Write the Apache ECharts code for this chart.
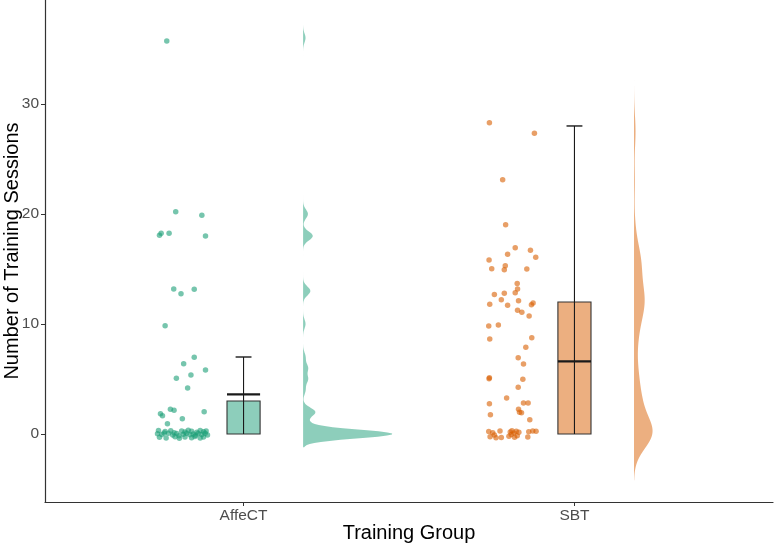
<!DOCTYPE html>
<html><head><meta charset="utf-8">
<script src="https://cdn.jsdelivr.net/npm/echarts@6/dist/echarts.min.js"></script>
<style>html,body{margin:0;padding:0;background:#fff}#c{width:774px;height:545px}</style>
</head><body><div id="c"></div>
<script>
// ---------- data ----------
const categories = ['AffeCT', 'SBT'];
const yTicks = [0, 10, 20, 30];
const xTitle = 'Training Group';
const yTitle = 'Number of Training Sessions';

// jittered points: [horizontal jitter from group centre, plotted value]
const affectPoints = [
  [-0.232,35.73],[-0.205,20.21],[-0.126,19.88],[-0.254,18.06],[-0.249,18.24],[-0.225,18.24],[-0.115,18.0],
  [-0.211,13.18],[-0.189,12.76],[-0.149,13.15],[-0.237,9.85],[-0.149,6.97],[-0.181,6.39],[-0.115,5.82],
  [-0.159,5.36],[-0.203,5.06],[-0.169,4.18],[-0.251,1.85],[-0.245,1.66],[-0.221,2.24],[-0.210,2.15],
  [-0.119,2.03],[-0.185,1.39],[-0.230,0.94],
  [-0.257,0.33],[-0.237,0.22],[-0.220,0.30],[-0.210,0.12],[-0.187,0.28],[-0.177,0.18],[-0.167,0.35],
  [-0.157,0.25],[-0.141,0.15],[-0.131,0.31],[-0.121,0.20],
  [-0.260,0.02],[-0.247,-0.05],[-0.227,0.06],[-0.214,-0.08],[-0.202,0.04],[-0.182,-0.02],[-0.172,0.08],
  [-0.162,-0.06],[-0.152,0.01],[-0.137,0.05],[-0.126,-0.04],[-0.116,0.07],[-0.109,-0.10],
  [-0.254,-0.30],[-0.234,-0.36],[-0.207,-0.25],[-0.194,-0.38],[-0.177,-0.28],[-0.157,-0.33],[-0.147,-0.22],
  [-0.131,-0.37],[-0.121,-0.27],
  [-0.240,0.10],[-0.195,-0.15],[-0.145,-0.12],[-0.113,0.28]
];
const sbtPoints = [
  [-0.257,28.3],[-0.121,27.33],[-0.217,23.12],[-0.208,19.03],[-0.179,16.94],[-0.133,16.7],[-0.202,16.33],
  [-0.117,16.06],[-0.258,15.82],[-0.209,15.3],[-0.212,14.94],[-0.250,15.03],[-0.144,15.0],[-0.173,13.67],
  [-0.172,13.18],[-0.179,12.85],[-0.242,12.67],[-0.212,12.79],[-0.221,12.21],[-0.169,12.12],[-0.256,11.79],
  [-0.202,11.7],[-0.130,11.76],[-0.125,11.9],[-0.172,11.24],[-0.159,11.06],[-0.137,10.73],[-0.259,9.82],
  [-0.230,9.91],[-0.256,8.64],[-0.129,8.76],[-0.147,7.88],[-0.170,6.94],[-0.154,6.36],[-0.258,5.03],
  [-0.257,5.12],[-0.156,4.97],[-0.170,4.24],[-0.205,3.27],[-0.257,2.76],[-0.154,2.82],[-0.140,2.82],
  [-0.169,2.24],[-0.254,1.76],[-0.166,1.97],[-0.160,1.94],[-0.135,1.3],
  [-0.259,0.22],[-0.247,0.12],[-0.225,0.28],[-0.194,0.18],[-0.189,0.30],[-0.183,0.10],[-0.176,0.25],
  [-0.168,0.16],[-0.138,0.20],[-0.126,0.27],[-0.116,0.24],
  [-0.255,-0.25],[-0.242,-0.10],[-0.237,-0.35],[-0.221,-0.32],[-0.198,-0.20],[-0.191,-0.05],[-0.181,-0.30],
  [-0.173,-0.15],[-0.141,-0.28]
];
// box summaries: [lower whisker, box bottom, thick line, box top, upper whisker]
const affectBox = [0, 0, 3.6, 3, 7];
const sbtBox = [0, 0, 6.6, 12, 28];
// kernel bandwidths of the half-violins
const bandwidths = [0.4, 1.4];

// ---------- drawing ----------
const colors = ['#1b9e77', '#d95f02'];
const pointSets = [affectPoints, sbtPoints];
const boxSets = [affectBox, sbtBox];
const violinBase = 0.18;
const violinMaxHalf = [0.269, 0.056];
const boxHalf = 0.05, capHalf = 0.024;
const FONT = "'Liberation Sans', Arial, Helvetica, sans-serif";

function kde(values, bw) {
  const v = values.map(Math.round);
  const lo = Math.min(...v) - 3 * bw, hi = Math.max(...v) + 3 * bw;
  const N = 400, out = [];
  for (let i = 0; i <= N; i++) {
    const y = lo + (hi - lo) * i / N;
    let s = 0;
    for (const t of v) { const z = (y - t) / bw; s += Math.exp(-0.5 * z * z); }
    out.push([y, s / (v.length * bw * Math.sqrt(2 * Math.PI))]);
  }
  return out;
}
const densities = pointSets.map((ps, g) => kde(ps.map(p => p[1]), bandwidths[g]));

const series = [];
pointSets.forEach((ps, g) => {
  series.push({
    type: 'scatter',
    data: ps.map(p => [g + 1 + p[0], p[1]]),
    symbolSize: 5.5,
    itemStyle: { color: colors[g], opacity: 0.6 },
    silent: true, z: 2
  });
});
series.push({
  type: 'custom',
  data: [[1, 0], [2, 0]],
  encode: { x: 0, y: 1 },
  silent: true, z: 3,
  renderItem: function (params, api) {
    const g = params.dataIndex, cx = g + 1;
    const [lw, q1, mid, q3, uw] = boxSets[g];
    const p = (x, y) => api.coord([x, y]);
    const tl = p(cx - boxHalf, q3), br = p(cx + boxHalf, q1);
    const line = (a, b, w) => ({ type: 'line', shape: { x1: a[0], y1: a[1], x2: b[0], y2: b[1] },
      style: { stroke: '#1a1a1a', lineWidth: w } });
    return { type: 'group', children: [
      { type: 'rect', shape: { x: tl[0], y: tl[1], width: br[0] - tl[0], height: br[1] - tl[1] },
        style: { fill: colors[g], opacity: 0.5 } },
      { type: 'rect', shape: { x: tl[0], y: tl[1], width: br[0] - tl[0], height: br[1] - tl[1] },
        style: { fill: 'none', stroke: '#333', lineWidth: 1.1 } },
      line(p(cx, lw), p(cx, uw), 1.1),
      line(p(cx - capHalf, uw), p(cx + capHalf, uw), 1.4),
      line(p(cx - boxHalf, mid), p(cx + boxHalf, mid), 2.2)
    ] };
  }
});
series.push({
  type: 'custom',
  data: [[1, 0], [2, 0]],
  encode: { x: 0, y: 1 },
  silent: true, z: 1,
  renderItem: function (params, api) {
    const g = params.dataIndex, base = g + 1 + violinBase;
    const d = densities[g];
    const mx = Math.max(...d.map(q => q[1]));
    const k = violinMaxHalf[g] / mx;
    const pts = [api.coord([base, d[0][0]])];
    d.forEach(q => pts.push(api.coord([base + q[1] * k, q[0]])));
    pts.push(api.coord([base, d[d.length - 1][0]]));
    return { type: 'polygon', shape: { points: pts }, style: { fill: colors[g], opacity: 0.5 } };
  }
});

const chart = echarts.init(document.getElementById('c'), null, { renderer: 'canvas' });
chart.setOption({
  animation: false,
  backgroundColor: '#fff',
  grid: { left: 45, right: 1, top: 0, bottom: 43, containLabel: false, outerBoundsMode: 'none' },
  xAxis: {
    type: 'value', min: 0.4, max: 2.6,
    splitLine: { show: false },
    axisLine: { show: true, onZero: false, lineStyle: { color: '#333', width: 1.2 } },
    axisTick: { show: true, customValues: [1, 2], length: 4, lineStyle: { color: '#333' } },
    axisLabel: { customValues: [1, 2], formatter: v => categories[Math.round(v) - 1],
      color: '#4d4d4d', fontSize: 15.5, fontFamily: FONT, margin: 6 }
  },
  yAxis: {
    type: 'value', min: -6.18, max: 39.45,
    splitLine: { show: false },
    axisLine: { show: true, onZero: false, lineStyle: { color: '#333', width: 1.2 } },
    axisTick: { show: true, customValues: yTicks, length: 4, lineStyle: { color: '#333' } },
    axisLabel: { customValues: yTicks, color: '#4d4d4d', fontSize: 15.5, fontFamily: FONT, margin: 6 }
  },
  graphic: [
    { type: 'text', x: 409, y: 533, style: { text: xTitle, fill: '#000', font: '20px ' + FONT,
      textAlign: 'center', textVerticalAlign: 'middle' } },
    { type: 'text', x: 12, y: 251, rotation: Math.PI / 2, style: { text: yTitle, fill: '#000', font: '20px ' + FONT,
      textAlign: 'center', textVerticalAlign: 'middle' } }
  ],
  series: series
});
</script></body></html>
